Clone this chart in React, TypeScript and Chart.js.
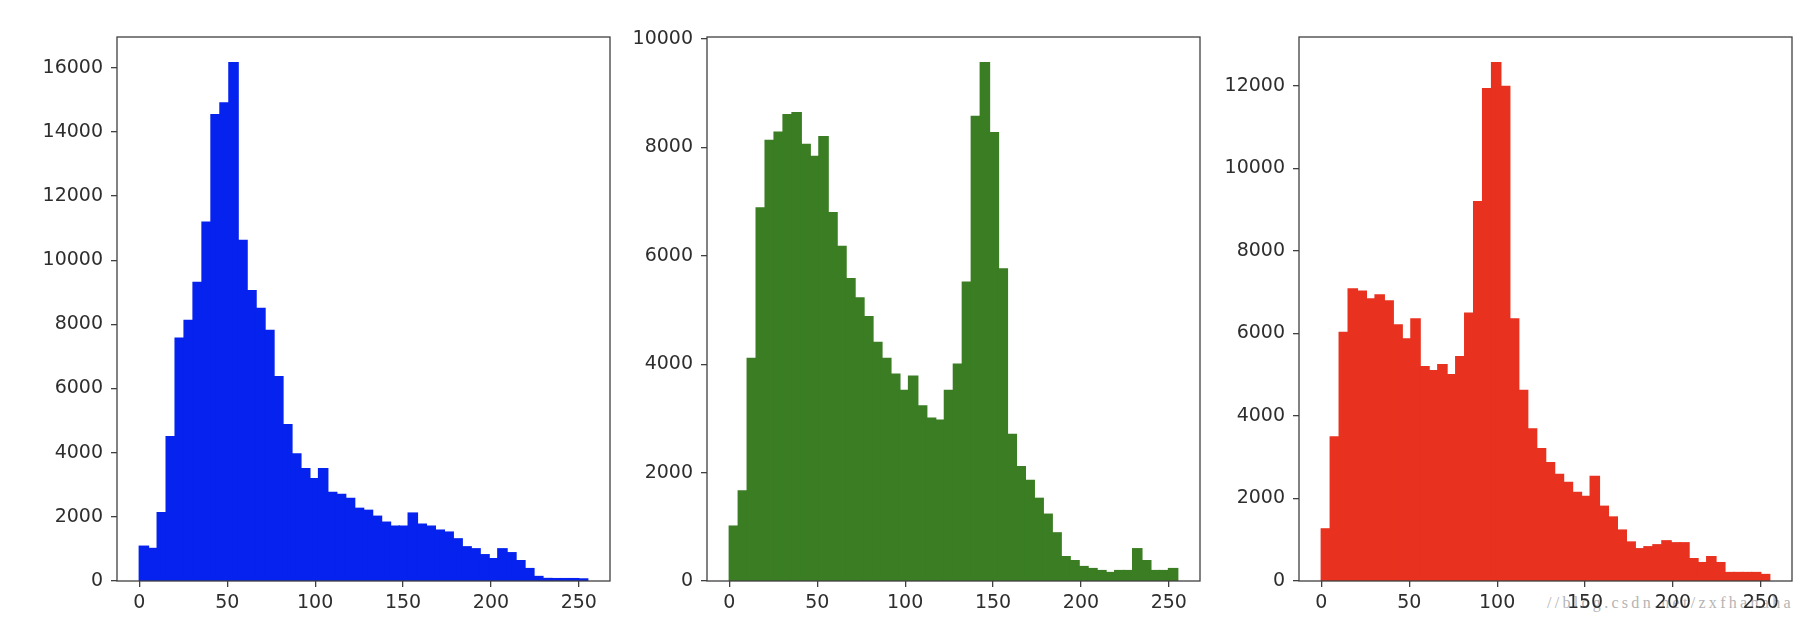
import React, { useEffect, useRef } from "react";
import { Chart, registerables } from "chart.js";

Chart.register(...registerables);

// Histogram settings (50 bins over 0..255)
const binCount = 50;
const rangeMax = 255;
const xTickValues = [0, 50, 100, 150, 200, 250];
const yTickStep = 2000;

// Blue channel counts
const blueCounts = [
  1080, 1010, 2125, 4497, 7561, 8117, 9303, 11181, 14529, 14900,
  16148, 10613, 9044, 8488, 7808, 6363, 4868, 3954, 3497, 3188,
  3497, 2755, 2693, 2570, 2261, 2199, 2014, 1829, 1705, 1705,
  2113, 1767, 1705, 1581, 1520, 1310, 1062, 1000, 815, 692,
  1000, 877, 630, 383, 136, 74, 70, 70, 70, 60,
];

// Green channel counts
const greenCounts = [
  1010, 1662, 4107, 6881, 8125, 8279, 8601, 8638, 8052, 7832,
  8198, 6793, 6171, 5578, 5219, 4875, 4399, 4107, 3814, 3514,
  3777, 3228, 3001, 2965, 3514, 3997, 5512, 8572, 9560, 8272,
  5754, 2701, 2108, 1852, 1523, 1230, 886, 447, 373, 264,
  227, 190, 154, 190, 190, 593, 373, 190, 190, 227,
];

// Red channel counts
const redCounts = [
  1260, 3490, 6019, 7077, 7019, 6836, 6932, 6788, 6202, 5865,
  6346, 5192, 5096, 5240, 5000, 5433, 6490, 9192, 11932, 12557,
  11981, 6346, 4615, 3683, 3202, 2865, 2577, 2385, 2144, 2048,
  2529, 1808, 1548, 1231, 942, 779, 827, 875, 971, 923,
  923, 538, 442, 586, 442, 202, 202, 202, 202, 154,
];

const watermark = "//blog.csdn.net/zxfhahaha";

const AXIS_W = 100;
const PLOT_W = 493;
const RIGHT_PAD = 10;
const TOP = 37;
const BOTTOM_H = 41;
const CANVAS_H = 622;

const panels = [
  { counts: blueCounts, color: "#0522ee", boxLeft: 117 },
  { counts: greenCounts, color: "#3a7d23", boxLeft: 707 },
  { counts: redCounts, color: "#e8321f", boxLeft: 1299 },
];

const boxPlugin = {
  id: "boxFrame",
  afterDraw(chart: any) {
    const { ctx, chartArea } = chart;
    ctx.save();
    ctx.strokeStyle = "#404040";
    ctx.lineWidth = 1.3;
    ctx.strokeRect(
      chartArea.left,
      chartArea.top,
      chartArea.right - chartArea.left,
      chartArea.bottom - chartArea.top
    );
    ctx.restore();
  },
};

function Panel({ counts, color, boxLeft }: { counts: number[]; color: string; boxLeft: number }) {
  const ref = useRef<HTMLCanvasElement | null>(null);
  useEffect(() => {
    const binW = rangeMax / binCount;
    const margin = rangeMax * 0.05;
    const yMax = Math.max(...counts) * 1.05;
    const chart = new Chart(ref.current as HTMLCanvasElement, {
      type: "bar",
      data: {
        datasets: [
          {
            data: counts.map((c, i) => ({ x: (i + 0.5) * binW, y: c })),
            backgroundColor: color,
            borderColor: color,
            borderWidth: 0,
            inflateAmount: 0.8,
            barPercentage: 1,
            categoryPercentage: 1,
            grouped: false,
          } as any,
        ],
      },
      options: {
        animation: false,
        responsive: false,
        events: [],
        layout: { padding: { left: 0, top: TOP, right: RIGHT_PAD, bottom: 0 } },
        plugins: { legend: { display: false }, tooltip: { enabled: false } },
        scales: {
          x: {
            type: "linear",
            min: -margin,
            max: rangeMax + margin,
            offset: false,
            afterBuildTicks: (scale: any) => {
              scale.ticks = xTickValues.map((v) => ({ value: v }));
            },
            afterFit: (scale: any) => {
              scale.height = BOTTOM_H;
            },
            grid: {
              offset: false,
              drawOnChartArea: false,
              drawTicks: true,
              tickLength: 6,
              color: "#404040",
              lineWidth: 1.3,
            },
            border: { display: false },
            ticks: {
              color: "#2e2e2e",
              padding: 5,
              maxRotation: 0,
              autoSkip: false,
              font: { family: "DejaVu Sans", size: 19 },
              callback: (v: any) => String(v),
            },
          },
          y: {
            type: "linear",
            min: 0,
            max: yMax,
            afterBuildTicks: (scale: any) => {
              const ticks: any[] = [];
              for (let v = 0; v <= yMax; v += yTickStep) ticks.push({ value: v });
              scale.ticks = ticks;
            },
            afterFit: (scale: any) => {
              scale.width = AXIS_W;
            },
            grid: {
              drawOnChartArea: false,
              drawTicks: true,
              tickLength: 6,
              color: "#404040",
              lineWidth: 1.3,
            },
            border: { display: false },
            ticks: {
              color: "#2e2e2e",
              padding: 8,
              autoSkip: false,
              font: { family: "DejaVu Sans", size: 19 },
              callback: (v: any) => String(v),
            },
          },
        },
      } as any,
      plugins: [boxPlugin],
    });
    return () => chart.destroy();
  }, [counts, color]);
  return (
    <canvas
      ref={ref}
      width={AXIS_W + PLOT_W + RIGHT_PAD}
      height={CANVAS_H}
      style={{ position: "absolute", left: boxLeft - AXIS_W, top: 0 }}
    />
  );
}

export default function App() {
  return (
    <div
      style={{
        position: "fixed",
        left: 0,
        top: 0,
        width: 1808,
        height: 622,
        background: "#ffffff",
        overflow: "hidden",
      }}
    >
      <div
        style={{
          position: "absolute",
          left: 1547,
          top: 595,
          fontFamily: "'Liberation Serif', serif",
          fontSize: 16,
          lineHeight: "16px",
          letterSpacing: "3.3px",
          color: "#b4b4b4",
          whiteSpace: "nowrap",
        }}
      >
        {watermark}
      </div>
      {panels.map((p, i) => (
        <Panel key={i} counts={p.counts} color={p.color} boxLeft={p.boxLeft} />
      ))}
    </div>
  );
}
